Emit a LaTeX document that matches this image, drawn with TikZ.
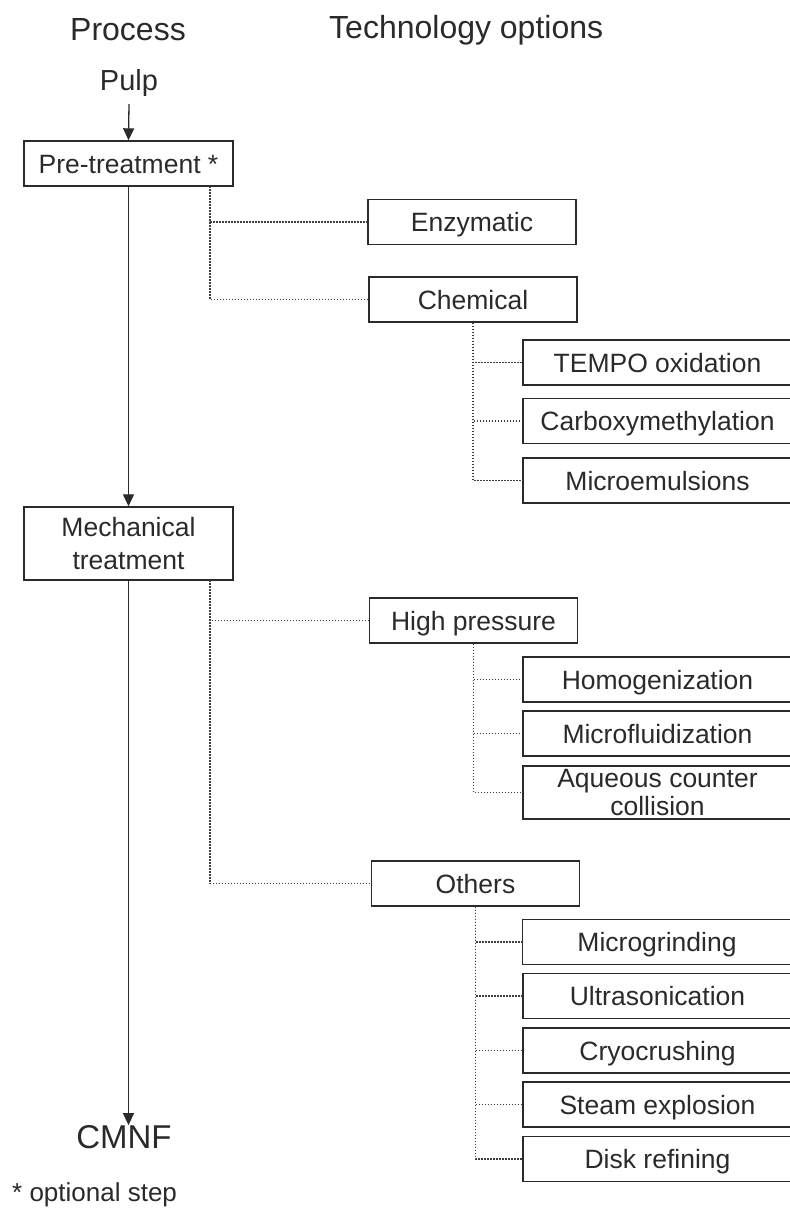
\documentclass[tikz,border=0pt]{standalone}
\usepackage{fontspec}
\setmainfont{Liberation Sans}
\usetikzlibrary{arrows.meta}
\definecolor{ink}{HTML}{2A2A2A}
\definecolor{dotc}{HTML}{3C3C3C}
\begin{document}
\begin{tikzpicture}[x=1pt,y=-1pt,
  box/.style={draw=ink,line width=1.4pt,inner sep=0pt,align=center,font=\fontsize{26.5}{33}\selectfont,text=ink},
  oneline/.style={text height=19pt,text depth=0pt},
  leftbox/.style={box,minimum width=209pt},
  midbox/.style={box,oneline,minimum width=208pt,minimum height=45pt},
  subbox/.style={box,oneline,minimum width=269pt,minimum height=45pt},
  flow/.style={draw=ink,line width=1.3pt,-{Triangle[length=12pt,width=11pt]}},
  dotline/.style={draw=dotc,line width=1.4pt,dash pattern=on 1.6pt off 1.4pt},
  txt/.style={inner sep=0pt,text=ink}]
\useasboundingbox (0,0) rectangle (790,1208);
% headings
\node[txt,font=\fontsize{32}{38}\selectfont] (hproc) at (128,30) {Process};
\node[txt,font=\fontsize{32}{38}\selectfont,anchor=west] (htech) at (329,30) {Technology options};
\node[txt,font=\fontsize{29}{34}\selectfont] (pulp) at (129,83) {Pulp};
% process column
\node[leftbox,oneline,minimum height=45pt] (pre) at (128.5,163.5) {Pre-treatment *};
\node[leftbox,minimum height=73pt] (mech) at (128.5,543.5) {Mechanical\\treatment};
\node[txt,font=\fontsize{33}{38}\selectfont] (cmnf) at (124,1137) {CMNF};
\node[txt,font=\fontsize{26}{30}\selectfont,anchor=west] (opt) at (12,1195) {* optional step};
\draw[flow] (pulp.south |- 0,104) -- (pre.north);
\draw[flow] (pre.south) -- (mech.north);
\draw[flow] (mech.south) -- (mech.south |- cmnf.north);
% technology options
\node[midbox] (enz) at (472,222) {Enzymatic};
\node[midbox] (chem) at (473,299.5) {Chemical};
\node[subbox] (tempo) at (657.5,362.5) {TEMPO oxidation};
\node[subbox] (carb) at (657.5,421) {Carboxymethylation};
\node[subbox] (micro) at (657.5,480.5) {Microemulsions};
\node[midbox] (hp) at (473.5,620.5) {High pressure};
\node[subbox] (homo) at (657.5,679.5) {Homogenization};
\node[subbox] (mflu) at (657.5,733.5) {Microfluidization};
\node[box,minimum width=269pt,minimum height=53pt,font=\fontsize{26.5}{27.5}\selectfont] (aq) at (657.5,792.5) {Aqueous counter\\collision};
\node[midbox] (oth) at (475.5,883.5) {Others};
\node[subbox] (mgr) at (657,942) {Microgrinding};
\node[subbox] (ultra) at (657.5,996) {Ultrasonication};
\node[subbox] (cryo) at (657.5,1050.5) {Cryocrushing};
\node[subbox] (steam) at (657.5,1104.5) {Steam explosion};
\node[subbox] (disk) at (657.5,1159) {Disk refining};
% dotted connectors
\coordinate (pd) at (210,186);
\coordinate (md) at (210,580);
\draw[dotline] (pd) |- (enz.west);
\draw[dotline] (pd) |- (chem.west);
\draw[dotline] (chem.south) |- (tempo.west);
\draw[dotline] (chem.south) |- (carb.west);
\draw[dotline] (chem.south) |- (micro.west);
\draw[dotline] (md) |- (hp.west);
\draw[dotline] (md) |- (oth.west);
\draw[dotline] (hp.south) |- (homo.west);
\draw[dotline] (hp.south) |- (mflu.west);
\draw[dotline] (hp.south) |- (aq.west);
\draw[dotline] (oth.south) |- (mgr.west);
\draw[dotline] (oth.south) |- (ultra.west);
\draw[dotline] (oth.south) |- (cryo.west);
\draw[dotline] (oth.south) |- (steam.west);
\draw[dotline] (oth.south) |- (disk.west);
\end{tikzpicture}
\end{document}
